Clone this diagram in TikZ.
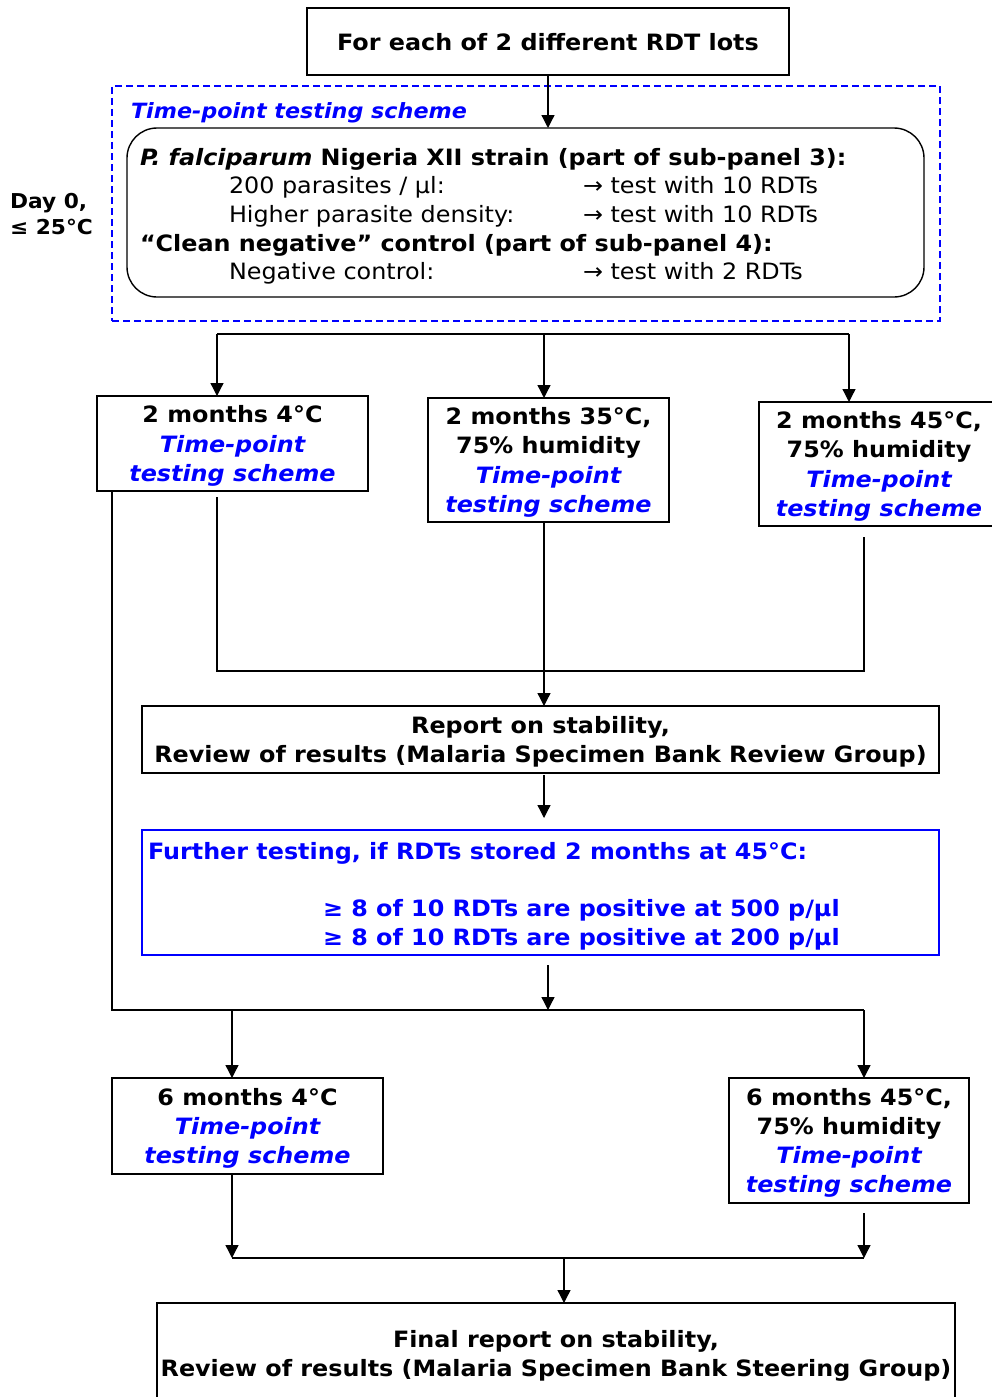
\documentclass[tikz,border=0pt]{standalone}
\usepackage{fontspec}
\setmainfont{DejaVu Sans}[FakeStretch=1.06]
\usetikzlibrary{arrows.meta}
\definecolor{schemeblue}{RGB}{0,0,255}
\newcommand{\tpline}[1]{{\color{schemeblue}\bfseries\itshape #1}}
\newcommand{\fs}{\fontsize{22.5}{29.2}\selectfont}

\begin{document}
\begin{tikzpicture}[x=1pt,y=-1pt,
  every node/.style={inner sep=0pt, outer sep=0pt},
  box/.style={draw, line width=1.4pt, align=center, font=\bfseries\fs,
              text depth=-6pt},
  txt/.style={anchor=base west, font=\fs},
  btxt/.style={txt, font=\bfseries\fs},
  conn/.style={line width=1.3pt},
  arr/.style={conn, -{Triangle[length=13pt,width=13pt]}}
]
\useasboundingbox (0,0) rectangle (991,1397);

% top of the flow
\node[box, minimum width=482, minimum height=67] (top) at (548,41.5)
  {For each of 2 different RDT lots};

% day-0 testing scheme
\node[draw=schemeblue, dashed, dash pattern=on 7pt off 4pt, line width=1.3pt,
      minimum width=828, minimum height=235] (frame) at (526,203.5) {};
\node[btxt, font=\bfseries\itshape\fontsize{21}{29}\selectfont, text=schemeblue]
  (framelabel) at (131,118) {Time-point testing scheme};
\node[draw, line width=1.4pt, rounded corners=30pt,
      minimum width=797, minimum height=169] (scheme) at (525.5,212.5) {};
\node[btxt] (l1) at (140,165) {\textit{P. falciparum} Nigeria XII strain (part of sub-panel 3):};
\node[txt] (l2a) at (229,193) {200 parasites / µl:};
\node[txt] (l2b) at (583,193) {→ test with 10 RDTs};
\node[txt] (l3a) at (229,222) {Higher parasite density:};
\node[txt] (l3b) at (583,222) {→ test with 10 RDTs};
\node[btxt] (l4) at (140,251) {“Clean negative” control (part of sub-panel 4):};
\node[txt] (l5a) at (229,279) {Negative control:};
\node[txt] (l5b) at (583,279) {→ test with 2 RDTs};

\node[anchor=west, align=left, font=\bfseries\fontsize{20.5}{26}\selectfont]
  (day) at (10,214) {Day 0,\\≤ 25°C};

\draw[arr] (top.south) -- (top.south |- scheme.north);

% two-month storage conditions
\node[box, minimum width=271, minimum height=95] (b1) at (232.5,443.5)
  {2 months 4°C\\\tpline{Time-point}\\\tpline{testing scheme}};
\node[box, minimum width=241, minimum height=124] (b2) at (548.5,460)
  {2 months 35°C,\\75\% humidity\\\tpline{Time-point}\\\tpline{testing scheme}};
\node[box, minimum width=240, minimum height=124] (b3) at (879,464)
  {2 months 45°C,\\75\% humidity\\\tpline{Time-point}\\\tpline{testing scheme}};

\coordinate (s1) at (217,334);
\coordinate (s2) at (544,334);
\coordinate (s3) at (849,334);
\draw[conn] (s1) -- (s3);
\draw[arr] (s1) -- (s1 |- b1.north);
\draw[arr] (s2) -- (s2 |- b2.north);
\draw[arr] (s3) -- (s3 |- b3.north);

% review after two months
\node[box, minimum width=797, minimum height=67] (report) at (540.5,739.5)
  {Report on stability,\\Review of results (Malaria Specimen Bank Review Group)};

\coordinate (m1) at (217,497);
\coordinate (m3) at (864,537);
\coordinate (mj) at (544,671);
\draw[conn] (m1) -- (m1 |- mj) -- (m3 |- mj) -- (m3);
\draw[conn] (mj |- b2.south) -- (mj);
\draw[arr] (mj) -- (mj |- report.north);

% further testing criteria
\node[draw=schemeblue, line width=1.4pt, minimum width=797, minimum height=125]
  (further) at (540.5,892.5) {};
\node[btxt, text=schemeblue] (f1) at (148,859)
  {Further testing, if RDTs stored 2 months at 45°C:};
\node[btxt, text=schemeblue] (f2) at (323,916)
  {≥ 8 of 10 RDTs are positive at 500 p/µl};
\node[btxt, text=schemeblue] (f3) at (323,945)
  {≥ 8 of 10 RDTs are positive at 200 p/µl};

\draw[arr, shorten <=2pt, shorten >=12pt] (mj |- report.south) -- (mj |- further.north);

% six-month storage conditions
\node[box, minimum width=271, minimum height=96] (b4) at (247.5,1126)
  {6 months 4°C\\\tpline{Time-point}\\\tpline{testing scheme}};
\node[box, minimum width=240, minimum height=125] (b5) at (849,1140.5)
  {6 months 45°C,\\75\% humidity\\\tpline{Time-point}\\\tpline{testing scheme}};

\coordinate (t0) at (112,491);
\coordinate (tj) at (548,1010);
\coordinate (t1) at (232,1010);
\coordinate (t2) at (864,1010);
\draw[conn] (t0) -- (t0 |- tj) -- (t2);
\draw[arr, shorten <=10pt] (tj |- further.south) -- (tj);
\draw[arr] (t1) -- (t1 |- b4.north);
\draw[arr] (t2) -- (t2 |- b5.north);

% final review
\node[box, minimum width=798, minimum height=101] (final) at (556,1353.5)
  {Final report on stability,\\Review of results (Malaria Specimen Bank Steering Group)};

\coordinate (u1) at (232,1258);
\coordinate (u2) at (864,1258);
\coordinate (u2s) at (864,1213);
\coordinate (uj) at (564,1258);
\draw[arr] (t1 |- b4.south) -- (u1);
\draw[arr] (u2s) -- (u2);
\draw[conn] (u1) -- (u2);
\draw[arr] (uj) -- (uj |- final.north);
\end{tikzpicture}
\end{document}
